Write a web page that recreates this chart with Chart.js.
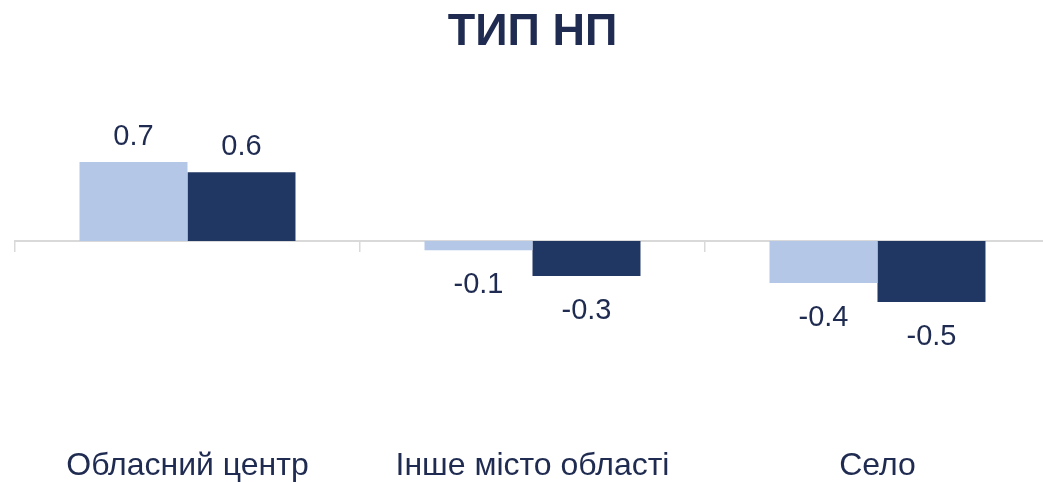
<!DOCTYPE html>
<html>
<head>
<meta charset="utf-8">
<script src="https://cdn.jsdelivr.net/npm/chart.js@4/dist/chart.umd.min.js"></script>
<style>
    body { margin: 0; overflow: hidden; background: #fff; }
    canvas { display: block; }
</style>
</head>
<body>
<canvas id="typeChart" width="1050" height="482"></canvas>
<script>
// Data
const categories = ['Обласний центр', 'Інше місто області', 'Село'];
const seriesA = [0.70, -0.08, -0.37];
const seriesB = [0.61, -0.31, -0.54];

const textColor = '#1f2b50';
const fontFamily = '"Liberation Sans", Arial, sans-serif';

// Draw value labels at the end of each bar
const valueLabels = {
    id: 'valueLabels',
    afterDatasetsDraw(chart) {
        const ctx = chart.ctx;
        ctx.save();
        ctx.font = '29px ' + fontFamily;
        ctx.fillStyle = textColor;
        ctx.textAlign = 'center';
        ctx.textBaseline = 'middle';
        chart.data.datasets.forEach((ds, i) => {
            chart.getDatasetMeta(i).data.forEach((bar, j) => {
                const v = ds.data[j];
                const y = v >= 0 ? bar.y - 25 : bar.y + 35;
                ctx.fillText(v.toFixed(1), bar.x, y);
            });
        });
        ctx.restore();
    }
};

new Chart(document.getElementById('typeChart'), {
    type: 'bar',
    data: {
        labels: categories,
        datasets: [{
            data: seriesA,
            backgroundColor: '#b4c7e7',
            categoryPercentage: 0.626,
            barPercentage: 1
        }, {
            data: seriesB,
            backgroundColor: '#213763',
            categoryPercentage: 0.626,
            barPercentage: 1
        }]
    },
    options: {
        responsive: false,
        animation: false,
        layout: { padding: { left: 15, right: 0, top: 0, bottom: 0 } },
        plugins: {
            legend: { display: false },
            tooltip: { enabled: false },
            title: {
                display: true,
                text: 'ТИП НП',
                color: textColor,
                font: { family: fontFamily, size: 45, weight: 'bold', lineHeight: 1.2 },
                padding: { top: 6, bottom: 8 }
            }
        },
        scales: {
            y: {
                display: false,
                min: -1.85,
                max: 1.533
            },
            x: {
                position: { y: 0 },
                offset: true,
                grid: {
                    offset: true,
                    drawOnChartArea: false,
                    drawTicks: true,
                    tickLength: 10,
                    color: '#d9d9d9',
                    lineWidth: 1.5
                },
                border: { display: true, color: '#d9d9d9', width: 2 },
                ticks: { display: false }
            },
            x2: {
                type: 'category',
                labels: categories,
                position: 'bottom',
                offset: true,
                grid: { display: false, drawTicks: false },
                border: { display: false },
                ticks: {
                    color: textColor,
                    padding: 0,
                    maxRotation: 0,
                    font: { family: fontFamily, size: 32, lineHeight: 1 }
                }
            }
        }
    },
    plugins: [valueLabels]
});
</script>
</body>
</html>
